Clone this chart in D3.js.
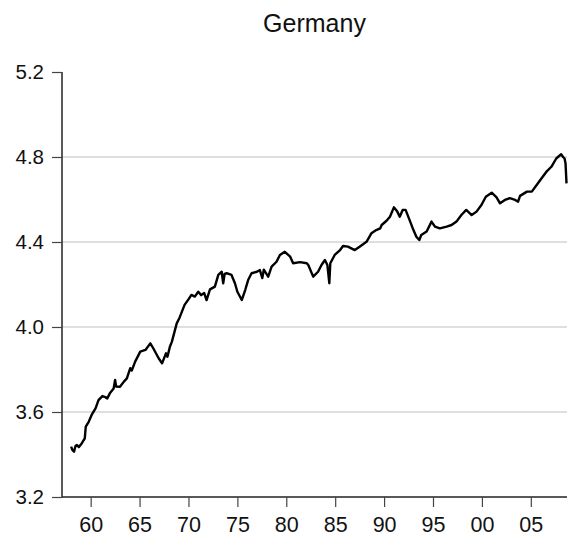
<!DOCTYPE html>
<html>
<head>
<meta charset="utf-8">
<script src="https://cdn.jsdelivr.net/npm/d3@7"></script>
<style>
  body { margin: 0; background: #fff; }
  svg { display: block; font-family: "Liberation Sans", Arial, sans-serif; }
</style>
</head>
<body>
<svg id="chart" width="569" height="540"></svg>
<script>
// monthly-ish readings (decimal year, value)
const years = [
  1958.0, 1958.15, 1958.3, 1958.45, 1958.6, 1958.8, 1959.1, 1959.4, 1959.5, 1959.8,
  1960.1, 1960.5, 1960.8, 1961.2, 1961.5, 1961.7, 1962.0, 1962.35, 1962.5, 1962.6,
  1963.0, 1963.4, 1963.7, 1964.05, 1964.2, 1964.55, 1965.07, 1965.6, 1966.1, 1966.4,
  1966.95, 1967.3, 1967.7, 1967.85, 1968.1, 1968.3, 1968.8, 1969.1, 1969.6, 1970.0,
  1970.3, 1970.65, 1971.0, 1971.3, 1971.6, 1971.85, 1972.2, 1972.7, 1973.05, 1973.4,
  1973.55, 1973.7, 1973.9, 1974.4, 1974.75, 1975.0, 1975.45, 1975.8, 1976.1, 1976.45,
  1977.0, 1977.3, 1977.55, 1977.7, 1978.15, 1978.5, 1979.0, 1979.35, 1979.85, 1980.4,
  1980.7, 1981.4, 1982.1, 1982.25, 1982.75, 1983.25, 1983.6, 1983.95, 1984.2, 1984.4,
  1984.5, 1984.95, 1985.5, 1985.8, 1986.3, 1987.0, 1987.5, 1988.2, 1988.7, 1989.2,
  1989.6, 1989.75, 1990.25, 1990.6, 1991.0, 1991.35, 1991.6, 1991.9, 1992.2, 1992.6,
  1993.0, 1993.3, 1993.6, 1993.8, 1994.35, 1994.85, 1995.2, 1995.7, 1996.4, 1996.9,
  1997.4, 1997.9, 1998.4, 1998.95, 1999.45, 1999.95, 2000.4, 2001.0, 2001.5, 2001.85,
  2002.35, 2002.85, 2003.4, 2003.7, 2003.9, 2004.6, 2005.1, 2005.6, 2006.1, 2006.6,
  2007.1, 2007.6, 2008.1, 2008.3, 2008.45, 2008.55, 2008.65
];
const values = [
  3.437, 3.420, 3.413, 3.440, 3.445, 3.435, 3.453, 3.476, 3.531, 3.554,
  3.586, 3.617, 3.656, 3.675, 3.670, 3.664, 3.691, 3.711, 3.751, 3.720,
  3.719, 3.743, 3.758, 3.806, 3.795, 3.837, 3.884, 3.892, 3.923, 3.900,
  3.853, 3.829, 3.876, 3.860, 3.907, 3.930, 4.017, 4.045, 4.104, 4.130,
  4.151, 4.143, 4.166, 4.150, 4.160, 4.127, 4.177, 4.190, 4.245, 4.260,
  4.206, 4.250, 4.253, 4.245, 4.206, 4.166, 4.127, 4.174, 4.221, 4.253,
  4.260, 4.268, 4.230, 4.270, 4.237, 4.284, 4.307, 4.339, 4.354, 4.331,
  4.300, 4.305, 4.300, 4.292, 4.237, 4.260, 4.292, 4.315, 4.292, 4.206,
  4.300, 4.339, 4.362, 4.381, 4.378, 4.362, 4.378, 4.401, 4.441, 4.456,
  4.464, 4.480, 4.500, 4.519, 4.563, 4.543, 4.519, 4.551, 4.551, 4.504,
  4.456, 4.425, 4.409, 4.433, 4.449, 4.496, 4.472, 4.464, 4.472, 4.480,
  4.496, 4.527, 4.551, 4.527, 4.543, 4.574, 4.613, 4.632, 4.610, 4.582,
  4.598, 4.606, 4.598, 4.590, 4.617, 4.637, 4.637, 4.668, 4.700, 4.731,
  4.754, 4.793, 4.813, 4.800, 4.793, 4.770, 4.676
];
const yTicks = [3.2, 3.6, 4.0, 4.4, 4.8, 5.2];
const gridTicks = [3.6, 4.0, 4.4, 4.8];
const xTicks = [1960, 1965, 1970, 1975, 1980, 1985, 1990, 1995, 2000, 2005];
const xTickLabels = ["60", "65", "70", "75", "80", "85", "90", "95", "00", "05"];

const svg = d3.select("#chart");
const plot = {left: 62, right: 567, top: 72, bottom: 497};

const x = d3.scaleLinear().domain([1957.07, 2008.7]).range([plot.left, plot.right]);
const y = d3.scaleLinear().domain([3.2, 5.2]).range([plot.bottom, plot.top]);

// title, centred over the plot
svg.append("text")
  .attr("x", (plot.left + plot.right) / 2).attr("y", 32)
  .attr("text-anchor", "middle")
  .attr("font-size", 25)
  .attr("fill", "#111")
  .text("Germany");

// grid lines
svg.append("g")
  .selectAll("line")
  .data(gridTicks)
  .enter().append("line")
  .attr("x1", plot.left).attr("x2", plot.right)
  .attr("y1", d => y(d)).attr("y2", d => y(d))
  .attr("stroke", "#d4d4d4")
  .attr("stroke-width", 1.5);

// y axis
const yAxis = svg.append("g")
  .attr("transform", `translate(${plot.left},0)`)
  .call(d3.axisLeft(y).tickValues(yTicks).tickFormat(d3.format(".1f")).tickSize(10).tickPadding(8));
yAxis.select(".domain").attr("stroke", "#222").attr("stroke-width", 1.5)
  .attr("d", `M0,${plot.top}V${plot.bottom}`);
yAxis.selectAll(".tick line").attr("stroke", "#444").attr("stroke-width", 1.2);
yAxis.selectAll(".tick text").attr("font-size", 20.5).attr("fill", "#111")
  .attr("font-family", "Liberation Sans, Arial, sans-serif");

// x axis
const xAxis = svg.append("g")
  .attr("transform", `translate(0,${plot.bottom})`)
  .call(d3.axisBottom(x).tickValues(xTicks)
    .tickFormat((d, i) => xTickLabels[i]).tickSize(10).tickPadding(10));
xAxis.select(".domain").attr("stroke", "#222").attr("stroke-width", 1.5)
  .attr("d", `M${plot.left},0H${plot.right}`);
xAxis.selectAll(".tick line").attr("stroke", "#444").attr("stroke-width", 1.2);
xAxis.selectAll(".tick text").attr("font-size", 21.5).attr("fill", "#111")
  .attr("font-family", "Liberation Sans, Arial, sans-serif");

// series
const line = d3.line()
  .x((d, i) => x(years[i]))
  .y(d => y(d));

svg.append("path")
  .datum(values)
  .attr("fill", "none")
  .attr("stroke", "#000")
  .attr("stroke-width", 2.4)
  .attr("stroke-linejoin", "round")
  .attr("d", line);
</script>
</body>
</html>
